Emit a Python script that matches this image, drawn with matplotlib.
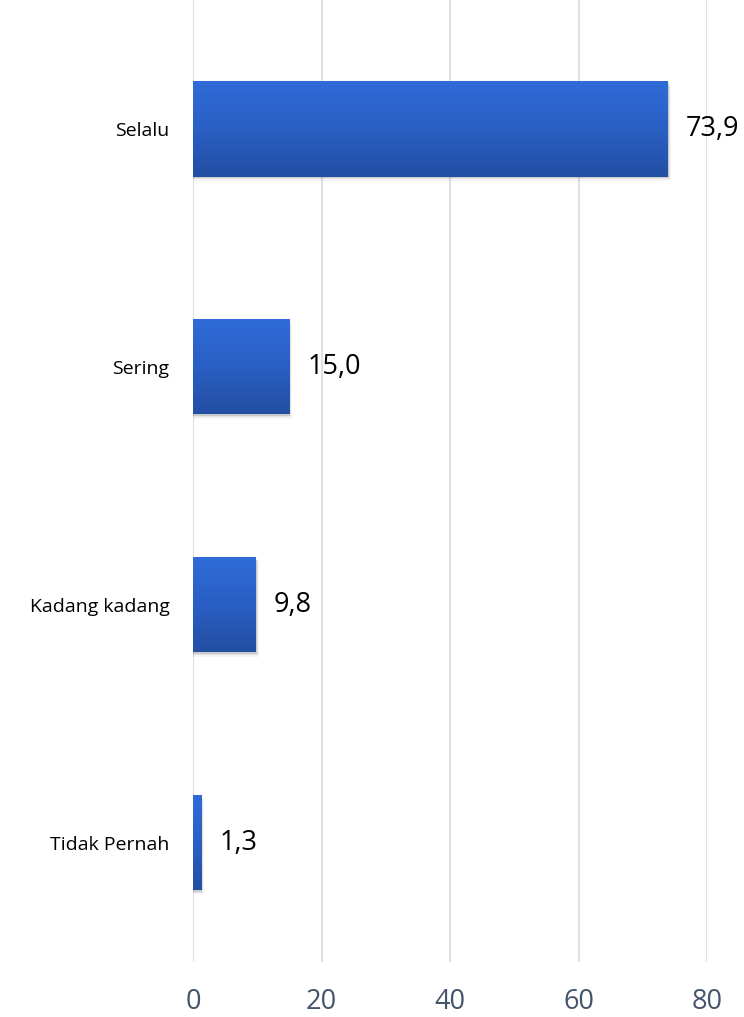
import numpy as np
import matplotlib.pyplot as plt
from matplotlib.colors import LinearSegmentedColormap
from matplotlib.patches import Rectangle

categories = ["Selalu", "Sering", "Kadang kadang", "Tidak Pernah"]
values = [73.9, 15.0, 9.8, 1.3]
value_labels = ["73,9", "15,0", "9,8", "1,3"]
x_ticks = [0, 20, 40, 60, 80]

BAR_HEIGHT = 0.40
W, H = 744, 1017

plt.rcParams["font.family"] = ["Open Sans", "DejaVu Sans"]

fig = plt.figure(figsize=(W / 100, H / 100), dpi=100)
left, right = 193 / W, 707 / W
bottom, top = 1 - 961.5 / H, 1.0
ax = fig.add_axes([left, bottom, right - left, top - bottom])

y = np.arange(len(categories))

cmap = LinearSegmentedColormap.from_list("bar", ["#2F6CD8", "#2A5FC4", "#234FA3"])
grad = np.linspace(0, 1, 256).reshape(-1, 1)

for yi, v in zip(y, values):
    y0 = yi - BAR_HEIGHT / 2
    # soft shadow under the bar
    for k, a in enumerate([0.10, 0.07, 0.04]):
        sh = Rectangle((0, y0 + 0.006 * (k + 1)), v + 0.15 * (k + 1), BAR_HEIGHT,
                       facecolor="black", alpha=a, edgecolor="none", zorder=2)
        ax.add_patch(sh)
    rect = Rectangle((0, y0), v, BAR_HEIGHT, facecolor="none", edgecolor="none", zorder=3)
    ax.add_patch(rect)
    im = ax.imshow(grad, cmap=cmap, aspect="auto", extent=(0, v, y0 + BAR_HEIGHT, y0),
                   zorder=3, interpolation="bilinear")
    im.set_clip_path(rect)

for yi, v, lab in zip(y, values, value_labels):
    ax.annotate(lab, (v, yi), xytext=(13, 0), textcoords="offset points",
                va="center", ha="left", fontsize=19.5, color="black", annotation_clip=False)

ax.set_xlim(0, 80)
ax.set_ylim(len(categories) - 0.5, -0.542)
ax.set_xticks(x_ticks)
ax.set_xticklabels([str(t) for t in x_ticks], fontsize=19.5, color="#44546A")
ax.set_yticks(y)
ax.set_yticklabels(categories, fontsize=14, color="black")
ax.tick_params(axis="x", length=0, pad=19)
ax.tick_params(axis="y", length=0, pad=17)
for s in ax.spines.values():
    s.set_visible(False)
ax.grid(axis="x", color="#DDE1E8", linewidth=1.5, zorder=0)
ax.set_axisbelow(True)

fig.savefig("out.png", dpi=100)
